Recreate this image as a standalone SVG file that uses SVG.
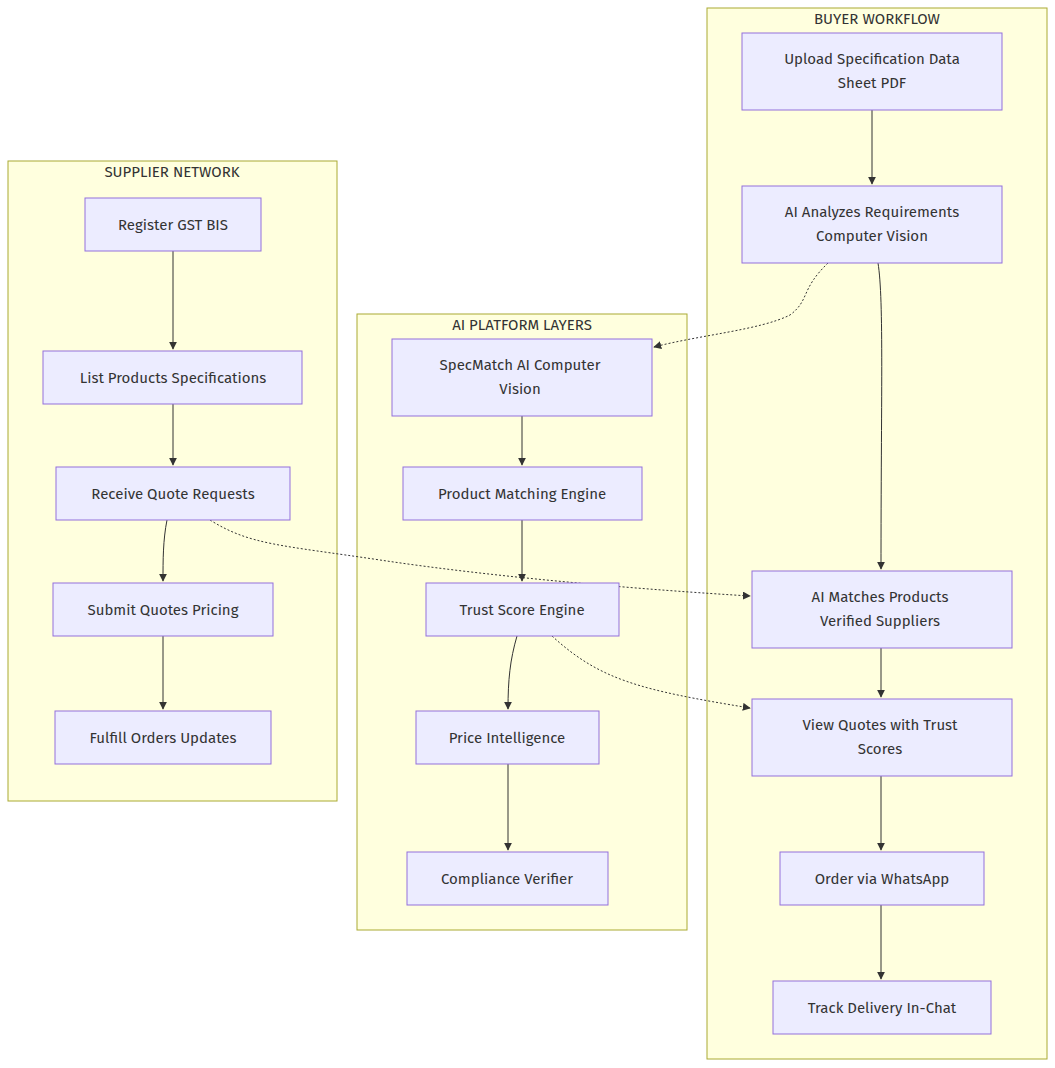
<svg xmlns="http://www.w3.org/2000/svg" width="1055" height="1068" viewBox="0 0 1055 1068">
<style>
.cl{fill:#ffffde;stroke:#aaaa33;stroke-width:1}
.n{fill:#ececff;stroke:#9370db;stroke-width:1}
text{font-family:"Fira Sans","Noto Sans","Liberation Sans",sans-serif;font-size:15px;fill:#333;text-anchor:middle}
.e{fill:none;stroke:#333;stroke-width:1;marker-end:url(#a)}
.d{stroke-dasharray:2 2}
</style>
<defs><marker id="a" viewBox="0 0 10 10" refX="9" refY="5" markerWidth="8" markerHeight="8" orient="auto"><path d="M0,0L10,5L0,10z" fill="#333"/></marker></defs>
<g id="buyer"><rect class="cl" x="707" y="8" width="340" height="1051"/><text x="877" y="24">BUYER WORKFLOW</text></g>
<g id="supplier"><rect class="cl" x="8" y="161" width="329" height="640"/><text x="172" y="177">SUPPLIER NETWORK</text></g>
<g id="ai"><rect class="cl" x="357" y="314" width="330" height="616"/><text x="522" y="330">AI PLATFORM LAYERS</text></g>
<g id="edges">
<path class="e" d="M872,110V184"/>
<path class="e" d="M878,263C884,300 881,400 881,569"/>
<path class="e d" d="M828,263C800,290 810,300 790,315C760,330 700,335 654,347"/>
<path class="e" d="M173,251V349"/>
<path class="e" d="M173,404V465"/>
<path class="e" d="M167,520C163,540 163,560 163,581"/>
<path class="e" d="M163,636V709"/>
<path class="e" d="M522,416V465"/>
<path class="e" d="M522,520V581"/>
<path class="e" d="M517,636C510,660 508,680 508,709"/>
<path class="e" d="M508,764V850"/>
<path class="e d" d="M210,520C250,545 280,545 380,560C500,578 650,590 750,596"/>
<path class="e d" d="M552,636C600,680 640,690 750,708"/>
<path class="e" d="M881,648V697"/>
<path class="e" d="M881,776V850"/>
<path class="e" d="M881,905V979"/>
</g>
<g id="upload"><rect class="n" x="742" y="33" width="260" height="77"/><text x="872" y="64">Upload Specification Data</text><text x="872" y="88">Sheet PDF</text></g>
<g id="analyze"><rect class="n" x="742" y="186" width="260" height="77"/><text x="872" y="217">AI Analyzes Requirements</text><text x="872" y="241">Computer Vision</text></g>
<g id="matches"><rect class="n" x="752" y="571" width="260" height="77"/><text x="880" y="602">AI Matches Products</text><text x="880" y="626">Verified Suppliers</text></g>
<g id="view"><rect class="n" x="752" y="699" width="260" height="77"/><text x="880" y="730">View Quotes with Trust</text><text x="880" y="754">Scores</text></g>
<g id="order"><rect class="n" x="780" y="852" width="204" height="53"/><text x="882" y="884">Order via WhatsApp</text></g>
<g id="track"><rect class="n" x="773" y="981" width="218" height="53"/><text x="882" y="1013">Track Delivery In-Chat</text></g>
<g id="register"><rect class="n" x="85" y="198" width="176" height="53"/><text x="173" y="230">Register GST BIS</text></g>
<g id="list"><rect class="n" x="43" y="351" width="259" height="53"/><text x="173" y="383">List Products Specifications</text></g>
<g id="receive"><rect class="n" x="56" y="467" width="234" height="53"/><text x="173" y="499">Receive Quote Requests</text></g>
<g id="submit"><rect class="n" x="53" y="583" width="220" height="53"/><text x="163" y="615">Submit Quotes Pricing</text></g>
<g id="fulfill"><rect class="n" x="55" y="711" width="216" height="53"/><text x="163" y="743">Fulfill Orders Updates</text></g>
<g id="specmatch"><rect class="n" x="392" y="339" width="260" height="77"/><text x="520" y="370">SpecMatch AI Computer</text><text x="520" y="394">Vision</text></g>
<g id="pme"><rect class="n" x="403" y="467" width="239" height="53"/><text x="522" y="499">Product Matching Engine</text></g>
<g id="trust"><rect class="n" x="426" y="583" width="193" height="53"/><text x="522" y="615">Trust Score Engine</text></g>
<g id="price"><rect class="n" x="416" y="711" width="183" height="53"/><text x="507" y="743">Price Intelligence</text></g>
<g id="compliance"><rect class="n" x="407" y="852" width="201" height="53"/><text x="507" y="884">Compliance Verifier</text></g>
</svg>
